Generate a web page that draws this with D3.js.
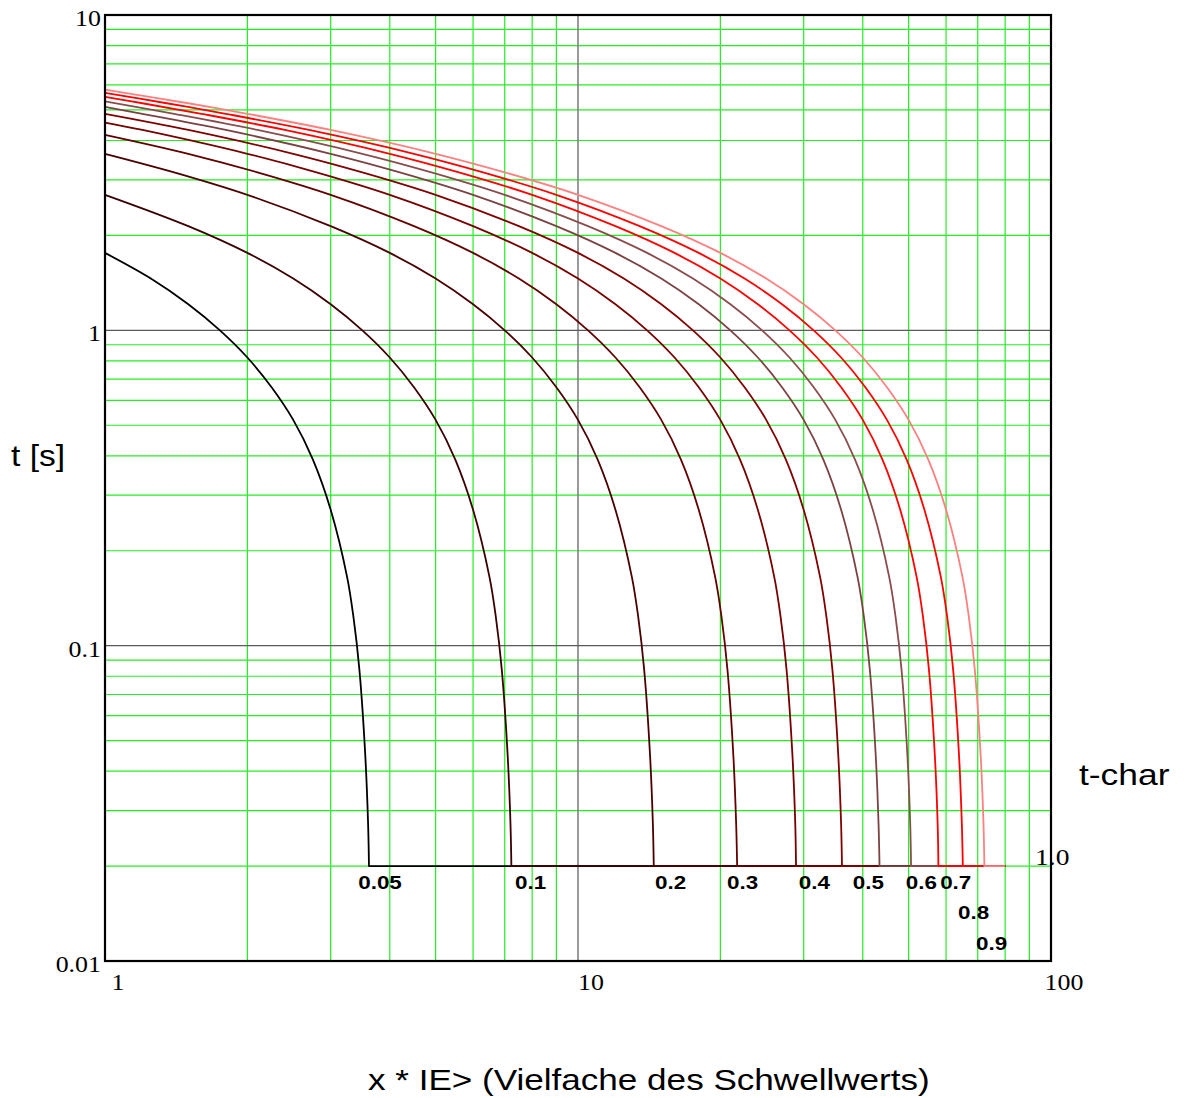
<!DOCTYPE html>
<html>
<head>
<meta charset="utf-8">
<script src="https://cdn.jsdelivr.net/npm/d3@7"></script>
<style>
    body { margin: 0; background: #ffffff; }
    svg { display: block; }
</style>
</head>
<body>
<svg id="chart"></svg>
<script>
/*--------------------------------------------------------------------------------
----- TRIP TIME CURVES (t [s] against multiples of the threshold, per t-char)
--------------------------------------------------------------------------------*/

// t-char settings, one curve each
const t_char_values = [0.05, 0.1, 0.2, 0.3, 0.4, 0.5, 0.6, 0.7, 0.8, 0.9, 1.0];

// Points: [x * IE>, t in s]
const curve_0_05 = [[1, 1.76], [1.25, 1.46], [1.5, 1.21], [1.75, 1.00], [2, 0.82], [2.25, 0.66], [2.5, 0.52], [2.75, 0.39], [3, 0.27], [3.25, 0.165], [3.35, 0.124], [3.45, 0.084], [3.55, 0.045], [3.6, 0.027], [3.615, 0.02], [80, 0.02]];
const curve_0_1 = [[1, 2.69], [1.5, 2.14], [2, 1.76], [2.5, 1.46], [3, 1.21], [3.5, 1.00], [4, 0.82], [4.5, 0.66], [5, 0.52], [5.5, 0.39], [6, 0.27], [6.5, 0.165], [6.7, 0.124], [6.9, 0.084], [7.1, 0.045], [7.2, 0.027], [7.23, 0.02], [80, 0.02]];
const curve_0_2 = [[1, 3.63], [1.4, 3.17], [2, 2.69], [3, 2.14], [4, 1.76], [5, 1.46], [6, 1.21], [7, 1.00], [8, 0.82], [9, 0.66], [10, 0.52], [11, 0.39], [12, 0.27], [13, 0.165], [13.4, 0.124], [13.8, 0.084], [14.2, 0.045], [14.4, 0.027], [14.46, 0.02], [80, 0.02]];
const curve_0_3 = [[1, 4.17], [1.5, 3.63], [2.1, 3.17], [3, 2.69], [4.5, 2.14], [6, 1.76], [7.5, 1.46], [9, 1.21], [10.5, 1.00], [12, 0.82], [13.5, 0.66], [15, 0.52], [16.5, 0.39], [18, 0.27], [19.5, 0.165], [20.1, 0.124], [20.7, 0.084], [21.3, 0.045], [21.6, 0.027], [21.7, 0.02], [80, 0.02]];
const curve_0_4 = [[1, 4.56], [1.2, 4.32], [2, 3.63], [2.8, 3.17], [4, 2.69], [6, 2.14], [8, 1.76], [10, 1.46], [12, 1.21], [14, 1.00], [16, 0.82], [18, 0.66], [20, 0.52], [22, 0.39], [24, 0.27], [26, 0.165], [26.8, 0.124], [27.6, 0.084], [28.4, 0.045], [28.8, 0.027], [28.9, 0.02], [80, 0.02]];
const curve_0_5 = [[1, 4.86], [1.5, 4.32], [2.5, 3.63], [3.5, 3.17], [5, 2.69], [7.5, 2.14], [10, 1.76], [12.5, 1.46], [15, 1.21], [17.5, 1.00], [20, 0.82], [22.5, 0.66], [25, 0.52], [27.5, 0.39], [30, 0.27], [32.5, 0.165], [33.5, 0.124], [34.5, 0.084], [35.5, 0.045], [36, 0.027], [36.15, 0.02], [80, 0.02]];
const curve_0_6 = [[1, 5.11], [1.2, 4.86], [1.8, 4.32], [3, 3.63], [4.2, 3.17], [6, 2.69], [9, 2.14], [12, 1.76], [15, 1.46], [18, 1.21], [21, 1.00], [24, 0.82], [27, 0.66], [30, 0.52], [33, 0.39], [36, 0.27], [39, 0.165], [40.2, 0.124], [41.4, 0.084], [42.6, 0.045], [43.2, 0.027], [43.4, 0.02], [80, 0.02]];
const curve_0_7 = [[1, 5.32], [1.4, 4.86], [2.1, 4.32], [3.5, 3.63], [4.9, 3.17], [7, 2.69], [10.5, 2.14], [14, 1.76], [17.5, 1.46], [21, 1.21], [24.5, 1.00], [28, 0.82], [31.5, 0.66], [35, 0.52], [38.5, 0.39], [42, 0.27], [45.5, 0.165], [46.9, 0.124], [48.3, 0.084], [49.7, 0.045], [50.4, 0.027], [50.6, 0.02], [80, 0.02]];
const curve_0_8 = [[1, 5.50], [1.2, 5.25], [1.6, 4.86], [2.4, 4.32], [4, 3.63], [5.6, 3.17], [8, 2.69], [12, 2.14], [16, 1.76], [20, 1.46], [24, 1.21], [28, 1.00], [32, 0.82], [36, 0.66], [40, 0.52], [44, 0.39], [48, 0.27], [52, 0.165], [53.6, 0.124], [55.2, 0.084], [56.8, 0.045], [57.6, 0.027], [57.8, 0.02], [80, 0.02]];
const curve_0_9 = [[1, 5.66], [1.35, 5.25], [1.8, 4.86], [2.7, 4.32], [4.5, 3.63], [6.3, 3.17], [9, 2.69], [13.5, 2.14], [18, 1.76], [22.5, 1.46], [27, 1.21], [31.5, 1.00], [36, 0.82], [40.5, 0.66], [45, 0.52], [49.5, 0.39], [54, 0.27], [58.5, 0.165], [60.3, 0.124], [62.1, 0.084], [63.9, 0.045], [64.8, 0.027], [65.1, 0.02], [80, 0.02]];
const curve_1_0 = [[1, 5.80], [1.5, 5.25], [2, 4.86], [3, 4.32], [5, 3.63], [7, 3.17], [10, 2.69], [15, 2.14], [20, 1.76], [25, 1.46], [30, 1.21], [35, 1.00], [40, 0.82], [45, 0.66], [50, 0.52], [55, 0.39], [60, 0.27], [65, 0.165], [67, 0.124], [69, 0.084], [71, 0.045], [72, 0.027], [72.3, 0.02], [80, 0.02]];

// Curve labels and where they sit (x * IE>, row under the 0.02 s line)
const curve_labels = ["0.05", "0.1", "0.2", "0.3", "0.4", "0.5", "0.6", "0.7", "0.8", "0.9"];
const label_x_values = [3.43, 7.36, 14.55, 20.65, 29.3, 38.1, 49.3, 58.3, 63.6, 69.4];
const label_rows = [0, 0, 0, 0, 0, 0, 0, 0, 1, 2];

// Axis ticks
const x_tick_values = [1, 10, 100];
const x_tick_labels = ["1", "10", "100"];
const y_tick_values = [10, 1, 0.1, 0.01];
const y_tick_labels = ["10", "1", "0.1", "0.01"];

const all_curves = [curve_0_05, curve_0_1, curve_0_2, curve_0_3, curve_0_4, curve_0_5,
    curve_0_6, curve_0_7, curve_0_8, curve_0_9, curve_1_0];
const curve_colors = ["#000000", "#3a0000", "#4a0000", "#620000", "#760000", "#800000",
    "#7c4242", "#8a4c4c", "#ff0000", "#ff0000", "#ff8080"];

// Dimensions of the drawing
const width = 1184, height = 1098;
const plot = { left: 105, right: 1051, top: 15, bottom: 961 };

const svg = d3.select('#chart')
    .attr('width', width)
    .attr('height', height);

// Log scales on both axes
const x = d3.scaleLog().domain([1, 100]).range([plot.left, plot.right]);
const y = d3.scaleLog().domain([0.01, 10]).range([plot.bottom, plot.top]);

// Minor grid (2..9 of every decade) in green
const x_minor = [], y_minor = [];
for (let d = 1; d < 100; d *= 10) for (let m = 2; m <= 9; m++) x_minor.push(d * m);
for (let d = 0.01; d < 9; d *= 10) for (let m = 2; m <= 9; m++) y_minor.push(d * m);

const grid = svg.append('g');
grid.selectAll('.vminor').data(x_minor).enter().append('line')
    .attr('x1', d => x(d)).attr('x2', d => x(d))
    .attr('y1', plot.top).attr('y2', plot.bottom)
    .attr('stroke', '#22ee22').attr('stroke-width', 1.2);
grid.selectAll('.hminor').data(y_minor).enter().append('line')
    .attr('y1', d => y(d)).attr('y2', d => y(d))
    .attr('x1', plot.left).attr('x2', plot.right)
    .attr('stroke', '#22ee22').attr('stroke-width', 1.2);

// Major grid in grey
grid.selectAll('.vmajor').data([10]).enter().append('line')
    .attr('x1', d => x(d)).attr('x2', d => x(d))
    .attr('y1', plot.top).attr('y2', plot.bottom)
    .attr('stroke', '#808080').attr('stroke-width', 1.6);
grid.selectAll('.hmajor').data([1, 0.1]).enter().append('line')
    .attr('y1', d => y(d)).attr('y2', d => y(d))
    .attr('x1', plot.left).attr('x2', plot.right)
    .attr('stroke', '#5a5a5a').attr('stroke-width', 1.4);

// Curves: smooth part, then the flat 0.02 s tail
const line = d3.line()
    .x(d => x(d[0]))
    .y(d => y(d[1]))
    .curve(d3.curveCatmullRom.alpha(0.5));

svg.append('g').selectAll('path')
    .data(all_curves)
    .enter()
    .append('path')
    .attr('d', d => {
        const last = d[d.length - 1];
        return line(d.slice(0, -1)) + 'L' + x(last[0]) + ',' + y(last[1]);
    })
    .attr('fill', 'none')
    .attr('stroke', (d, i) => curve_colors[i])
    .attr('stroke-width', 1.8)
    .attr('stroke-linejoin', 'round');

// Frame
svg.append('rect')
    .attr('x', plot.left).attr('y', plot.top)
    .attr('width', plot.right - plot.left).attr('height', plot.bottom - plot.top)
    .attr('fill', 'none').attr('stroke', '#000000').attr('stroke-width', 2.2);

// The original text is drawn a bit wider than the fonts here, so stretch it
function stretched(px, py, sx) {
    return 'translate(' + px + ',' + py + ') scale(' + sx + ',1)';
}

// Tick labels
svg.append('g').selectAll('text')
    .data(y_tick_values)
    .enter()
    .append('text')
    .attr('transform', d => stretched(plot.left - 4, y(d) + 11, 1.08))
    .attr('text-anchor', 'end')
    .style('font-family', '"Liberation Serif", serif')
    .style('font-size', '24px')
    .text((d, i) => y_tick_labels[i]);

svg.append('g').selectAll('text')
    .data(x_tick_values)
    .enter()
    .append('text')
    .attr('transform', d => stretched(x(d) + 13, plot.bottom + 29, 1.08))
    .attr('text-anchor', 'middle')
    .style('font-family', '"Liberation Serif", serif')
    .style('font-size', '24px')
    .text((d, i) => x_tick_labels[i]);

// Curve labels under the 0.02 s line
const row_offsets = [23, 53, 84];
svg.append('g').selectAll('text')
    .data(curve_labels)
    .enter()
    .append('text')
    .attr('transform', (d, i) => stretched(x(label_x_values[i]), y(0.02) + row_offsets[label_rows[i]], 1.18))
    .style('font-family', '"Liberation Sans", Arial, sans-serif')
    .style('font-weight', 'bold')
    .style('font-size', '19px')
    .text(d => d);

// Last t-char value sits on the right frame, next to the axis title
svg.append('text')
    .attr('transform', stretched(plot.right - 16, y(0.02) - 1, 1.15))
    .style('font-family', '"Liberation Serif", serif')
    .style('font-size', '24px')
    .text(t_char_values[t_char_values.length - 1].toFixed(1));

// Axis titles
svg.append('text')
    .attr('transform', stretched(11, 466, 1.12))
    .style('font-family', '"Liberation Sans", Arial, sans-serif')
    .style('font-size', '30px')
    .text('t [s]');

svg.append('text')
    .attr('transform', stretched(1079, 785, 1.18))
    .style('font-family', '"Liberation Sans", Arial, sans-serif')
    .style('font-size', '30px')
    .text('t-char');

svg.append('text')
    .attr('transform', stretched(368, 1090, 1.17))
    .style('font-family', '"Liberation Sans", Arial, sans-serif')
    .style('font-size', '30px')
    .text('x * IE> (Vielfache des Schwellwerts)');
</script>
</body>
</html>
